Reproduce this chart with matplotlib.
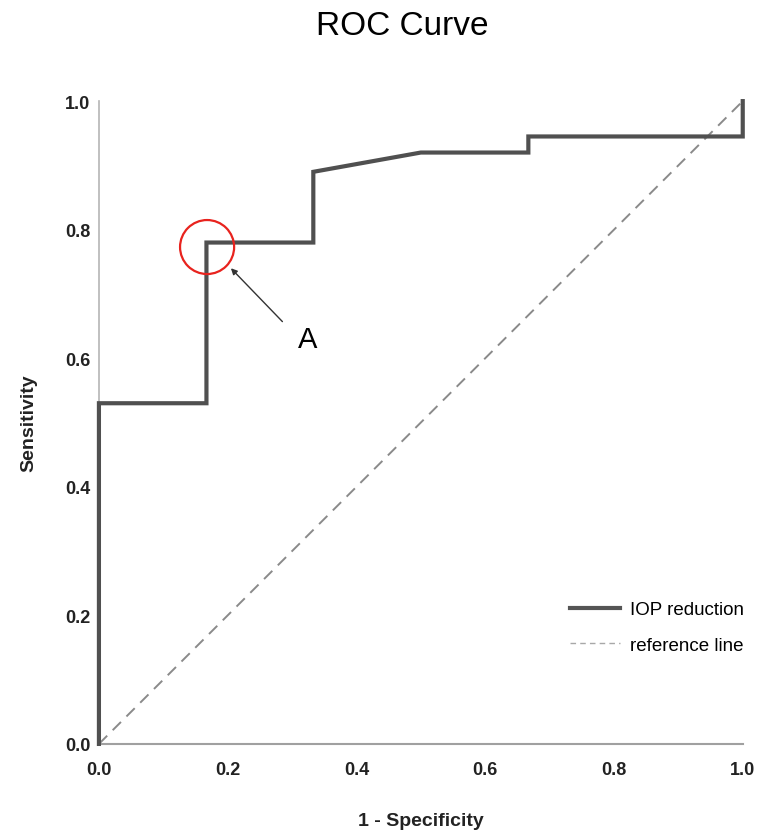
import matplotlib.pyplot as plt
from matplotlib.patches import Circle
from matplotlib.lines import Line2D

plt.rcParams['font.family'] = ['Liberation Sans', 'DejaVu Sans']

# ROC curve points
fpr = [0.0, 0.0, 0.167, 0.167, 0.333, 0.333, 0.5, 0.667, 0.667, 1.0, 1.0]
tpr = [0.0, 0.53, 0.53, 0.78, 0.78, 0.89, 0.92, 0.92, 0.945, 0.945, 1.0]
ref = [0.0, 1.0]
ticks = [0.0, 0.2, 0.4, 0.6, 0.8, 1.0]
tick_labels = ['0.0', '0.2', '0.4', '0.6', '0.8', '1.0']

fig = plt.figure(figsize=(7.61, 8.37), dpi=100)
ax = fig.add_axes([0.130, 0.110, 0.846, 0.768])

ax.plot(ref, ref, color='#8a8a8a', lw=1.4, ls=(0, (6, 4)), zorder=2)
ax.plot(fpr, tpr, color='#505050', lw=3.0, zorder=3,
        solid_joinstyle='miter', clip_on=False)

# marked point A
ax.add_patch(Circle((0.168, 0.773), 0.042, transform=ax.transData, fill=False,
                    ec='#e8231e', lw=1.6, zorder=4))
ax.annotate('', xy=(0.205, 0.740), xytext=(0.285, 0.657),
            arrowprops=dict(arrowstyle='-|>', color='#333333', lw=1.0,
                            mutation_scale=9, shrinkA=0, shrinkB=0))
ax.text(0.324, 0.630, 'A', fontsize=21, ha='center', va='center', color='black')

ax.set_xlim(0, 1)
ax.set_ylim(0, 1)
ax.set_xticks(ticks)
ax.set_xticklabels(tick_labels)
ax.set_yticks(ticks)
ax.set_yticklabels(tick_labels)
ax.tick_params(length=0, labelsize=13)
ax.tick_params(axis='x', pad=12)
ax.tick_params(axis='y', pad=6)
for lab in ax.get_xticklabels() + ax.get_yticklabels():
    lab.set_fontweight('bold')
    lab.set_color('#222222')

for s in ['top', 'right']:
    ax.spines[s].set_visible(False)
ax.spines['left'].set_color('#b5b5b5')
ax.spines['bottom'].set_color('#a0a0a0')
ax.spines['left'].set_linewidth(1.2)
ax.spines['bottom'].set_linewidth(1.5)

ax.set_xlabel('1 - Specificity', fontsize=14, fontweight='bold', labelpad=25, color='#222222')
ax.set_ylabel('Sensitivity', fontsize=14, fontweight='bold', labelpad=20, color='#222222')
fig.text(0.528, 0.968, 'ROC Curve', fontsize=24, ha='center', va='center')

handles = [Line2D([], [], color='#555555', lw=3.0),
           Line2D([], [], color='#a8a8a8', lw=1.0, ls=(0, (4, 3)))]
ax.legend(handles, ['IOP reduction', 'reference line'], loc='upper left',
          bbox_to_anchor=(570 / 761, 1 - 602 / 837), bbox_transform=fig.transFigure,
          frameon=False, fontsize=13.5, handlelength=2.65, handletextpad=0.55,
          labelspacing=1.0, borderpad=0, borderaxespad=0)

fig.savefig('out.png', dpi=100)
